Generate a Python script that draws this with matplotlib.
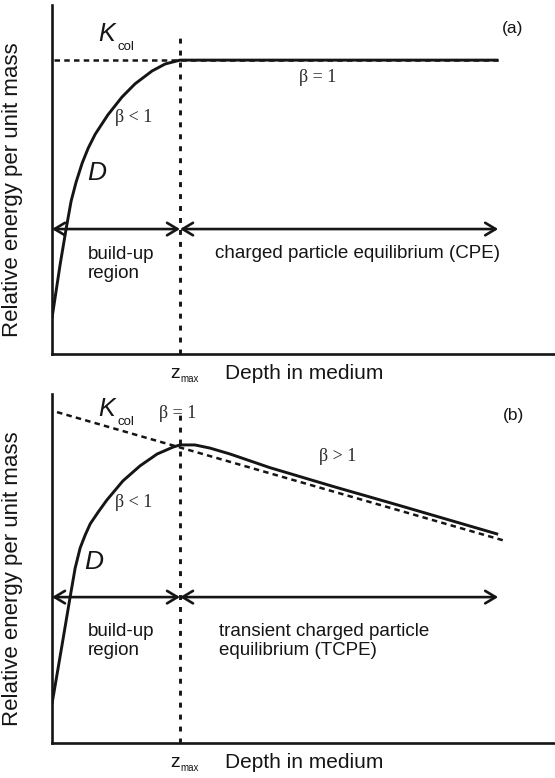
import matplotlib
matplotlib.use("Agg")
import matplotlib.pyplot as plt

# --- data (axes units 0..100 on both axes) ---
z_max = 25.45
end_x = 88.7

# panel (a): dose curve D, flat K_col
depth_a = [0, 1.6, 2.8, 3.8, 4.8, 6.0, 7.2, 8.6, 11.1, 13.9, 16.5, 19.9, 22.5, 25.45, 88.7]
dose_a = [10.3, 25.5, 35.8, 43.8, 49.3, 54.7, 59.0, 63.0, 68.5, 73.6, 77.4, 81.1, 83.1, 84.2, 84.2]
kcol_a_x = [0.3, 89.3]
kcol_a_y = [84.2, 84.2]
arrow_y_a = 35.8

# panel (b): dose curve D, falling K_col
depth_b = [0, 2.0, 3.6, 4.6, 5.6, 6.6, 7.6, 9.2, 10.9, 14.1, 17.5, 20.9, 24.1, 25.45,
           28.4, 31.4, 35.4, 43.3, 55.9, 69.2, 88.7]
dose_b = [11.2, 28.1, 41.8, 50.1, 55.9, 59.6, 62.8, 66.2, 69.6, 75.1, 79.4, 82.8, 84.8, 85.4,
          85.4, 84.5, 82.8, 78.9, 73.5, 68.0, 59.8]
kcol_b_x = [1.0, 90.1]
kcol_b_y = [94.8, 57.9]
arrow_y_b = 41.8

SANS = "Liberation Sans"
SERIF = "Liberation Serif"
INK = "#151515"
GREEK = "#2a2a2a"

fig = plt.figure(figsize=(5.55, 7.78), dpi=100)
ax_a = fig.add_axes([0.0937, 0.545, 0.9063, 0.4486])
ax_b = fig.add_axes([0.0937, 0.045, 0.9063, 0.4486])


def setup(ax):
    ax.set_xlim(0, 100)
    ax.set_ylim(0, 100)
    for s in ["top", "right"]:
        ax.spines[s].set_visible(False)
    for s in ["left", "bottom"]:
        ax.spines[s].set_linewidth(1.9)
        ax.spines[s].set_color(INK)
    ax.set_xticks([])
    ax.set_yticks([])
    ax.set_ylabel("Relative energy per unit mass", fontsize=16, family=SANS, color=INK)
    ax.yaxis.set_label_coords(-0.058, 0.47)
    # x label pieces: z_max + Depth in medium
    ax.text(z_max, -6.9, "z", ha="right", va="baseline", fontsize=14, family=SANS, color=INK)
    ax.text(z_max + 0.1, -7.9, "max", ha="left", va="baseline", fontsize=7, family=SANS, color=INK)
    ax.text(34.4, -7.2, "Depth in medium", ha="left", va="baseline", fontsize=15, family=SANS, color=INK)


def arrows(ax, y):
    props = dict(arrowstyle="<->,head_length=0.5,head_width=0.3", lw=1.9, color=INK,
                 shrinkA=0, shrinkB=0, mutation_scale=15)
    ax.annotate("", xy=(0, y), xytext=(z_max, y), arrowprops=props)
    ax.annotate("", xy=(z_max, y), xytext=(end_x, y), arrowprops=props)


def kcol(ax, x, y):
    ax.text(x, y, "K", ha="left", va="baseline", fontsize=18, family=SANS, style="italic", color=INK)
    ax.text(x + 4.0, y - 2.6, "col", ha="left", va="baseline", fontsize=9.5, family=SANS, color=INK)


# ---------------- panel (a) ----------------
setup(ax_a)
ax_a.plot(kcol_a_x, kcol_a_y, color=INK, lw=1.8, dashes=(2.2, 1.7))
ax_a.plot(depth_a, dose_a, color=INK, lw=2.1, solid_capstyle="butt")
ax_a.plot([z_max, z_max], [0, 92.3], color=INK, lw=2.1, dashes=(1.7, 2.4))
arrows(ax_a, arrow_y_a)
kcol(ax_a, 9.1, 89.6)
ax_a.text(8.9, 51.9, "D", ha="center", va="center", fontsize=19, family=SANS, style="italic", color=INK)
ax_a.text(16.2, 67.9, "β < 1", ha="center", va="center", fontsize=13, family=SERIF, color=GREEK)
ax_a.text(52.9, 79.1, "β = 1", ha="center", va="center", fontsize=13, family=SERIF, color=GREEK)
ax_a.text(91.5, 93.4, "(a)", ha="center", va="center", fontsize=12.5, family=SANS, color=INK)
ax_a.text(7.2, 25.8, "build-up\nregion", ha="left", va="center", fontsize=13.5, family=SANS,
          color=INK, linespacing=1.2)
ax_a.text(32.4, 28.9, "charged particle equilibrium (CPE)", ha="left", va="center",
          fontsize=13.5, family=SANS, color=INK)

# ---------------- panel (b) ----------------
setup(ax_b)
ax_b.plot(kcol_b_x, kcol_b_y, color=INK, lw=1.8, dashes=(2.2, 1.7))
ax_b.plot(depth_b, dose_b, color=INK, lw=2.1, solid_capstyle="butt")
ax_b.plot([z_max, z_max], [0, 94.0], color=INK, lw=2.1, dashes=(1.7, 2.4))
arrows(ax_b, arrow_y_b)
kcol(ax_b, 9.1, 93.6)
ax_b.text(8.2, 51.9, "D", ha="center", va="center", fontsize=19, family=SANS, style="italic", color=INK)
ax_b.text(16.2, 68.8, "β < 1", ha="center", va="center", fontsize=13, family=SERIF, color=GREEK)
ax_b.text(24.9, 94.3, "β = 1", ha="center", va="center", fontsize=13, family=SERIF, color=GREEK)
ax_b.text(56.7, 82.2, "β > 1", ha="center", va="center", fontsize=13, family=SERIF, color=GREEK)
ax_b.text(91.8, 93.7, "(b)", ha="center", va="center", fontsize=12.5, family=SANS, color=INK)
ax_b.text(7.2, 29.2, "build-up\nregion", ha="left", va="center", fontsize=13.5, family=SANS,
          color=INK, linespacing=1.2)
ax_b.text(33.2, 29.2, "transient charged particle\nequilibrium (TCPE)", ha="left", va="center",
          fontsize=13.5, family=SANS, color=INK, linespacing=1.2)

fig.savefig("out.png", dpi=100)
